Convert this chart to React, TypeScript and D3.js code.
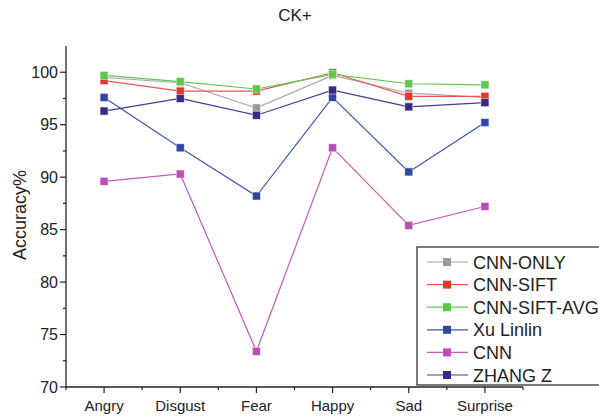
import React from "react";
import * as d3 from "d3";

const categories = ["Angry", "Disgust", "Fear", "Happy", "Sad", "Surprise"];
const seriesNames = ["CNN-ONLY", "CNN-SIFT", "CNN-SIFT-AVG", "Xu Linlin", "CNN", "ZHANG Z"];
const cnnOnly = [99.5, 99.0, 96.6, 99.7, 98.0, 97.6];
const cnnSift = [99.2, 98.2, 98.2, 99.95, 97.7, 97.7];
const cnnSiftAvg = [99.7, 99.1, 98.4, 99.8, 98.9, 98.8];
const xuLinlin = [97.6, 92.8, 88.2, 97.6, 90.5, 95.2];
const cnn = [89.6, 90.3, 73.4, 92.8, 85.4, 87.2];
const zhangZ = [96.3, 97.5, 95.9, 98.3, 96.7, 97.1];
const yTicks = [70, 75, 80, 85, 90, 95, 100];

const markerColors = ["#9a9a9a", "#e3352a", "#5ec84a", "#2e46a4", "#bb4db5", "#382a87"];
const lineColors = ["#a8a8a8", "#e8574e", "#62c652", "#3d55ae", "#c45ac0", "#463c96"];

export default function App() {
  const W = 599, H = 417;
  const left = 66, right = 523, top = 46, bottom = 387;
  const x = d3.scaleBand<string>().domain(categories).range([left, right]);
  const cx = (c: string) => (x(c) as number) + x.bandwidth() / 2;
  const y = d3.scaleLinear().domain([70, 102.5]).range([bottom, top]);
  const all = [cnnOnly, cnnSift, cnnSiftAvg, xuLinlin, cnn, zhangZ];
  const line = d3
    .line<number>()
    .x((_, i) => cx(categories[i]))
    .y((d) => y(d));
  const font = "Liberation Sans, Arial, sans-serif";
  const minorY = d3.range(72.5, 102.5, 5);
  const bounds = categories.map((c) => x(c) as number).concat([right]);
  const ms = 8;
  const legX = 417, legY = 247;
  return (
    <svg width={W} height={H} style={{ position: "absolute", left: 0, top: 0, background: "#fff" }}>
      <text x={295} y={21} textAnchor="middle" fontFamily={font} fontSize={17} fill="#222">CK+</text>
      <text
        transform={`translate(26,215) rotate(-90)`}
        textAnchor="middle"
        fontFamily={font}
        fontSize={18}
        fill="#222"
      >
        Accuracy%
      </text>
      {/* axes */}
      <line x1={left} x2={left} y1={top} y2={bottom} stroke="#222" strokeWidth={1.3} />
      <line x1={left} x2={right} y1={bottom} y2={bottom} stroke="#222" strokeWidth={1.3} />
      {yTicks.map((t) => (
        <g key={t}>
          <line x1={left - 6} x2={left} y1={y(t)} y2={y(t)} stroke="#222" strokeWidth={1.2} />
          <text x={left - 8} y={y(t) + 5.5} textAnchor="end" fontFamily={font} fontSize={16} fill="#222">
            {t}
          </text>
        </g>
      ))}
      {minorY.map((t) => (
        <line key={t} x1={left - 3} x2={left} y1={y(t)} y2={y(t)} stroke="#222" strokeWidth={1.2} />
      ))}
      {categories.map((c) => (
        <g key={c}>
          <line x1={cx(c)} x2={cx(c)} y1={bottom} y2={bottom + 6} stroke="#222" strokeWidth={1.2} />
          <text x={cx(c)} y={bottom + 24} textAnchor="middle" fontFamily={font} fontSize={15} fill="#222">
            {c}
          </text>
        </g>
      ))}
      {bounds.map((b, i) => (
        <line key={i} x1={b} x2={b} y1={bottom} y2={bottom + 3} stroke="#222" strokeWidth={1.2} />
      ))}
      {/* series */}
      {all.map((s, k) => (
        <g key={k}>
          <path d={line(s) || ""} fill="none" stroke={lineColors[k]} strokeWidth={1.2} />
          {s.map((v, i) => (
            <rect
              key={i}
              x={cx(categories[i]) - ms / 2}
              y={y(v) - ms / 2}
              width={ms}
              height={ms}
              fill={markerColors[k]}
              stroke="#ffffff"
              strokeOpacity={0.6}
              strokeWidth={0.8}
            />
          ))}
        </g>
      ))}
      {/* legend */}
      <rect x={legX} y={legY} width={200} height={138} fill="#fff" stroke="#222" strokeWidth={1.2} />
      {seriesNames.map((n, k) => {
        const ly = 262 + k * 22.6;
        return (
          <g key={n}>
            <line x1={427} x2={468} y1={ly} y2={ly} stroke={lineColors[k]} strokeWidth={1.2} />
            <rect x={447 - ms / 2} y={ly - ms / 2} width={ms} height={ms} fill={markerColors[k]} />
            <text x={473} y={ly + 6.5} fontFamily={font} fontSize={18} fill="#222">
              {n}
            </text>
          </g>
        );
      })}
    </svg>
  );
}
